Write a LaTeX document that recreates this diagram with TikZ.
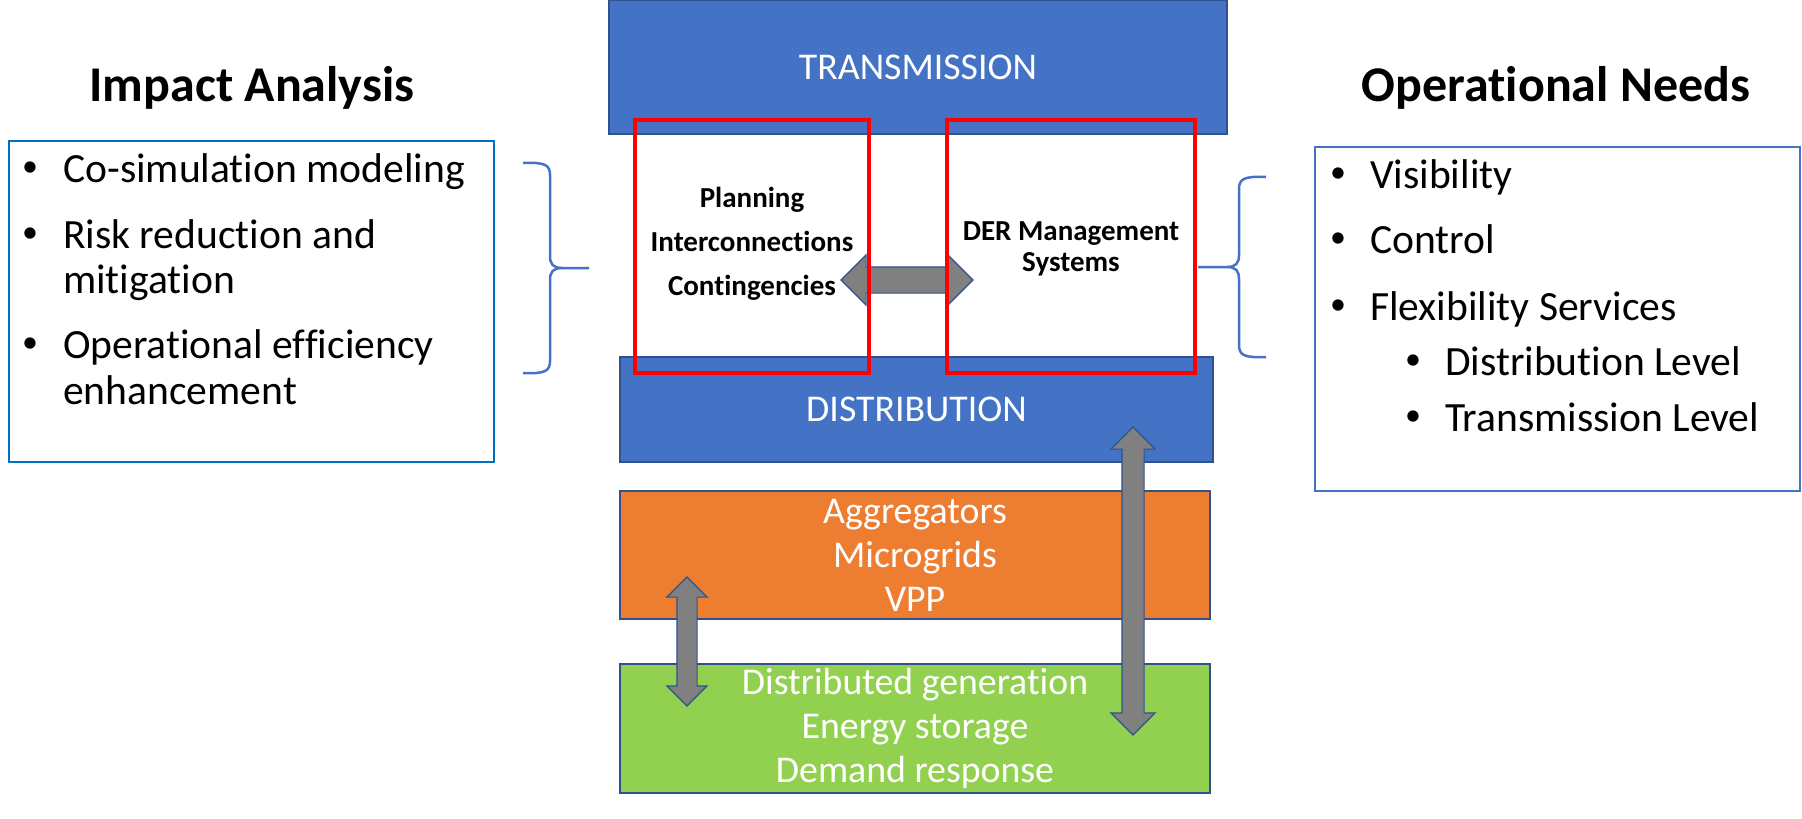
\documentclass[tikz,border=0pt]{standalone}
\usepackage{fontspec}
\setmainfont{Carlito}[Ligatures=NoCommon]
\usetikzlibrary{shapes.arrows}
\definecolor{layerblue}{HTML}{4472C4}
\definecolor{edgeblue}{HTML}{2F528F}
\definecolor{aggorange}{HTML}{ED7D31}
\definecolor{dergreen}{HTML}{92D050}
\definecolor{listblue}{HTML}{0070C0}
\definecolor{arrowgray}{HTML}{808080}
\begin{document}
\begin{tikzpicture}[x=1pt, y=-1pt,
    layer/.style={draw=edgeblue, line width=1.5pt, text=white, align=center, inner sep=0pt, font=\fontsize{37.8}{44}\selectfont},
    focus/.style={draw=red, line width=4pt, inner sep=0pt},
    listbox/.style={draw=#1, line width=2pt, inner sep=0pt},
    heading/.style={inner sep=0pt, font=\fontsize{50}{60}\selectfont\bfseries},
    item/.style={anchor=base west, inner sep=0pt, font=\fontsize{41.6}{46}\selectfont},
    dot/.style={anchor=base, inner sep=0pt, yshift=5.5pt, font=\fontsize{32}{36}\selectfont},
    focustext/.style={align=center, inner sep=0pt, font=\fontsize{29}{#1}\selectfont\bfseries},
    blockarrow/.style={double arrow, draw=edgeblue, fill=arrowgray, line width=1.2pt, inner xsep=0pt, double arrow tip angle=90},
    bracket/.style={draw=layerblue, line width=2.5pt}]
    \def\layerx{915}
    \def\layerw{590}

    \useasboundingbox (0,0) rectangle (1802,819);

    \node[layer, fill=layerblue, minimum width=618, minimum height=134] (trans) at (918, 67) {TRANSMISSION};
    \node[layer, fill=layerblue, minimum width=593, minimum height=105] (dist) at (916.5, 409.5) {DISTRIBUTION};
    \node[layer, fill=aggorange, minimum width=\layerw, minimum height=128] (aggr) at (\layerx, 555) {Aggregators\\Microgrids\\VPP};
    \node[layer, fill=dergreen, minimum width=\layerw, minimum height=129] (dgen) at (\layerx, 728.5) {Distributed generation\\Energy storage\\Demand response};

    \node[blockarrow, inner ysep=12.5pt, double arrow head extend=12pt, minimum height=132, minimum width=49] (link) at (907, 280) {};
    \node[focus, minimum width=234, minimum height=253] (plan) at (752, 246.5) {};
    \node[focus, minimum width=248, minimum height=253] (derms) at (1071, 246.5) {};
    \node[focustext=44] (plantxt) at (752, 244) {Planning\\Interconnections\\Contingencies};
    \node[focustext=31] (dermstxt) at (1071, 249) {DER Management\\Systems};

    \node[blockarrow, rotate=90, inner ysep=9.5pt, double arrow head extend=10pt, minimum height=129, minimum width=39] (aggrlink) at (687, 641.5) {};
    \node[blockarrow, rotate=90, inner ysep=10.5pt, double arrow head extend=11pt, minimum height=308, minimum width=43] (distlink) at (1133, 581) {};

    \node[heading] (impact) at (252, 88) {Impact Analysis};
    \node[listbox=listblue, minimum width=485, minimum height=321] (impbox) at (251.5, 301.5) {};
    \node[dot] (ia1) at (30, 182) {•};
    \node[item] (ia1t) at (63, 182) {Co-simulation modeling};
    \node[dot] (ia2) at (30, 248) {•};
    \node[item] (ia2t) at (63, 248) {Risk reduction and};
    \node[item] (ia2u) at (63, 293) {mitigation};
    \node[dot] (ia3) at (30, 358) {•};
    \node[item] (ia3t) at (63, 358) {Operational efficiency};
    \node[item] (ia3u) at (63, 404) {enhancement};

    \node[heading] (opneeds) at (1556, 88) {Operational Needs};
    \node[listbox=layerblue, minimum width=485, minimum height=344] (opbox) at (1557.5, 319) {};
    \node[dot] (on1) at (1338, 188) {•};
    \node[item] (on1t) at (1370, 188) {Visibility};
    \node[dot] (on2) at (1338, 253) {•};
    \node[item] (on2t) at (1370, 253) {Control};
    \node[dot] (on3) at (1338, 320) {•};
    \node[item] (on3t) at (1370, 320) {Flexibility Services};
    \node[dot] (on4) at (1413, 375) {•};
    \node[item] (on4t) at (1445, 375) {Distribution Level};
    \node[dot] (on5) at (1413, 431) {•};
    \node[item] (on5t) at (1445, 431) {Transmission Level};

    \draw[bracket] (523,163) .. controls (545,162) and (550,165) .. (550,175) -- (550,256) .. controls (550,264) and (553,268) .. (562,268) -- (589,268);
    \draw[bracket] (562,268) .. controls (553,268) and (550,272) .. (550,280) -- (550,361) .. controls (550,371) and (545,374) .. (523,373);
    \draw[bracket] (1266,177) .. controls (1244,176) and (1239,179) .. (1239,189) -- (1239,255) .. controls (1239,263) and (1236,267) .. (1227,267) -- (1198,267);
    \draw[bracket] (1227,267) .. controls (1236,267) and (1239,271) .. (1239,279) -- (1239,345) .. controls (1239,355) and (1244,358) .. (1266,357);
\end{tikzpicture}
\end{document}
